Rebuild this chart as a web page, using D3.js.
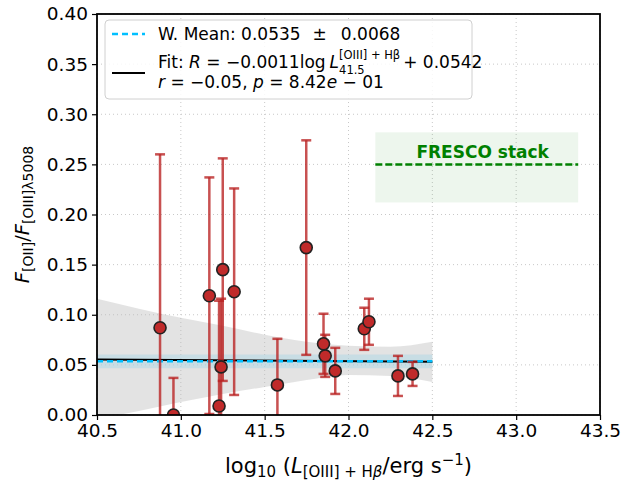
<!DOCTYPE html>
<html>
<head>
<meta charset="utf-8">
<script src="https://d3js.org/d3.v7.min.js"></script>
<style>
  body { margin: 0; background: #fff; }
  text { font-family: "DejaVu Sans", sans-serif; white-space: pre; }
</style>
</head>
<body>
<svg width="626" height="481"></svg>
<script>
// measured points: log10 L([OIII]+Hb), ratio, symmetric error
var lumX  = [40.876, 40.956, 41.17, 41.228, 41.240, 41.250, 41.318, 41.576, 41.748, 41.851, 41.861, 41.921, 42.094, 42.122, 42.295, 42.382];
var ratio = [0.087, 0.000, 0.119, 0.009, 0.048, 0.145, 0.123, 0.030, 0.167, 0.071, 0.059, 0.044, 0.086, 0.093, 0.039, 0.041];
var ratioErr = [0.173, 0.037, 0.118, 0.105, 0.068, 0.111, 0.103, 0.046, 0.107, 0.030, 0.021, 0.023, 0.021, 0.023, 0.020, 0.012];

// fit confidence band
var bandX     = [40.5, 40.75, 41.0, 41.25, 41.5, 41.75, 42.0, 42.25, 42.5];
var bandUpper = [0.116, 0.106, 0.097, 0.089, 0.080, 0.073, 0.069, 0.068, 0.073];
var bandLower = [-0.004, 0.004, 0.013, 0.021, 0.028, 0.035, 0.040, 0.039, 0.033];

// fit line end points and weighted mean
var fitX = [40.5, 42.5];
var fitY = [0.0553, 0.0531];
var wMean = 0.0535, wMeanErr = 0.0068;

// FRESCO stack
var frescoX = [42.16, 43.37];
var frescoVal = 0.25, frescoLo = 0.212, frescoHi = 0.282;

var xTicks = [40.5, 41.0, 41.5, 42.0, 42.5, 43.0, 43.5];
var yTicks = [0.00, 0.05, 0.10, 0.15, 0.20, 0.25, 0.30, 0.35, 0.40];

var svg = d3.select("svg"),
    margin = {top: 14, right: 26, bottom: 66, left: 97},
    width = 626 - margin.left - margin.right,
    height = 481 - margin.top - margin.bottom,
    g = svg.append("g").attr("transform", "translate(" + margin.left + "," + margin.top + ")");

var x = d3.scaleLinear().domain([40.5, 43.5]).range([0, width]);
var y = d3.scaleLinear().domain([0, 0.40]).range([height, 0]);

svg.append("defs").append("clipPath").attr("id", "clip")
  .append("rect").attr("width", width).attr("height", height);

// grid
g.append("g").selectAll("line").data(xTicks).enter().append("line")
  .attr("x1", d => x(d)).attr("x2", d => x(d)).attr("y1", 0).attr("y2", height)
  .attr("stroke", "#c8c8c8").attr("stroke-width", 1).attr("stroke-dasharray", "1,3");
g.append("g").selectAll("line").data(yTicks).enter().append("line")
  .attr("y1", d => y(d)).attr("y2", d => y(d)).attr("x1", 0).attr("x2", width)
  .attr("stroke", "#c8c8c8").attr("stroke-width", 1).attr("stroke-dasharray", "1,3");

var plot = g.append("g").attr("clip-path", "url(#clip)");

// FRESCO box
plot.append("rect")
  .attr("x", x(frescoX[0])).attr("width", x(frescoX[1]) - x(frescoX[0]))
  .attr("y", y(frescoHi)).attr("height", y(frescoLo) - y(frescoHi))
  .attr("fill", "#008000").attr("fill-opacity", 0.07);
plot.append("line")
  .attr("x1", x(frescoX[0])).attr("x2", x(frescoX[1]))
  .attr("y1", y(frescoVal)).attr("y2", y(frescoVal))
  .attr("stroke", "#008000").attr("stroke-width", 2.5).attr("stroke-dasharray", "7,3");
g.append("text")
  .attr("x", x(42.8)).attr("y", y(frescoVal) - 6)
  .attr("text-anchor", "middle").attr("font-size", 17).attr("font-weight", "bold")
  .attr("fill", "#008000").text("FRESCO stack");

// fit band
var area = d3.area()
  .x((d, i) => x(bandX[i]))
  .y0((d, i) => y(bandLower[i]))
  .y1((d, i) => y(bandUpper[i]))
  .curve(d3.curveMonotoneX);
plot.append("path").datum(bandX).attr("d", area)
  .attr("fill", "#bdbdbd").attr("fill-opacity", 0.42);

// weighted mean band
plot.append("rect")
  .attr("x", x(fitX[0])).attr("width", x(fitX[1]) - x(fitX[0]))
  .attr("y", y(wMean + wMeanErr)).attr("height", y(wMean - wMeanErr) - y(wMean + wMeanErr))
  .attr("fill", "#add8e6").attr("fill-opacity", 0.5);

// fit line
plot.append("line")
  .attr("x1", x(fitX[0])).attr("x2", x(fitX[1]))
  .attr("y1", y(fitY[0])).attr("y2", y(fitY[1]))
  .attr("stroke", "#000").attr("stroke-width", 2);
plot.append("line")
  .attr("x1", x(fitX[0])).attr("x2", x(fitX[1]))
  .attr("y1", y(wMean)).attr("y2", y(wMean))
  .attr("stroke", "#00bfff").attr("stroke-width", 2.5).attr("stroke-dasharray", "6,4");

// error bars
var pts = lumX.map((d, i) => ({x: d, y: ratio[i], e: ratioErr[i]}));
var eb = plot.append("g").attr("stroke", "#b82020").attr("stroke-opacity", 0.78).attr("stroke-width", 2.5);
pts.forEach(function(p) {
  var cx = x(p.x);
  eb.append("line").attr("x1", cx).attr("x2", cx).attr("y1", y(p.y - p.e)).attr("y2", y(p.y + p.e));
  [p.y - p.e, p.y + p.e].forEach(function(v) {
    eb.append("line").attr("x1", cx - 5).attr("x2", cx + 5).attr("y1", y(v)).attr("y2", y(v));
  });
});

plot.append("g").selectAll("circle").data(pts).enter().append("circle")
  .attr("cx", d => x(d.x)).attr("cy", d => y(d.y)).attr("r", 6)
  .attr("fill", "#c02a2a").attr("stroke", "#222").attr("stroke-width", 1.6);

// axes
var xAxis = g.append("g").attr("transform", "translate(0," + height + ")")
  .call(d3.axisBottom(x).tickValues(xTicks).tickFormat(d3.format(".1f")).tickSize(5).tickPadding(4));
var yAxis = g.append("g")
  .call(d3.axisLeft(y).tickValues(yTicks).tickFormat(d3.format(".2f")).tickSize(5).tickPadding(4));
[xAxis, yAxis].forEach(function(a) {
  a.select(".domain").remove();
  a.selectAll("text").attr("font-size", 18.5).attr("fill", "#000").style("font-family", "DejaVu Sans");
  a.selectAll("line").attr("stroke", "#000").attr("stroke-width", 1.2);
});
g.append("rect").attr("width", width).attr("height", height)
  .attr("fill", "none").attr("stroke", "#000").attr("stroke-width", 1.8);

// rich text helper: pieces placed one after another, "stack" puts a piece under the previous one
function rich(parent, x0, y0, runs) {
  var grp = parent.append("g");
  var cx = x0, prevStart = x0, prevEnd = x0;
  runs.forEach(function(r) {
    var sx = r.stack ? prevStart : cx + (r.gap || 0);
    var t = grp.append("text").attr("x", sx).attr("y", y0 + (r.dy || 0))
      .attr("font-size", r.size).style("font-style", r.it ? "italic" : "normal").text(r.t);
    var w = t.node().getComputedTextLength();
    if (r.stack) { cx = Math.max(prevEnd, sx + w); }
    else { prevStart = sx; prevEnd = sx + w; cx = sx + w; }
  });
  return {g: grp, width: cx - x0};
}

// x label
var xl = rich(svg, 0, 473, [
  {t: "log", size: 21}, {t: "10", size: 15, dy: 4}, {t: " (", size: 21},
  {t: "L", size: 21, it: true}, {t: "[OIII] + H", size: 15, dy: 4}, {t: "β", size: 15, dy: 4, it: true},
  {t: "/erg s", size: 21}, {t: "−1", size: 15, dy: -8}, {t: ")", size: 21}
]);
xl.g.attr("transform", "translate(" + (margin.left + width / 2 - xl.width / 2) + ",0)");

// y label
var ylg = svg.append("g");
var yl = rich(ylg, 0, 0, [
  {t: "F", size: 19.5, it: true}, {t: "[OII]", size: 14, dy: 4}, {t: "/", size: 19.5},
  {t: "F", size: 19.5, it: true}, {t: "[OIII]λ5008", size: 14, dy: 4}
]);
ylg.attr("transform", "translate(29," + (margin.top + height / 2 + yl.width / 2) + ") rotate(-90)");

// legend
var leg = svg.append("g");
leg.append("rect").attr("x", 105).attr("y", 20).attr("width", 367).attr("height", 79).attr("rx", 4)
  .attr("fill", "#fff").attr("fill-opacity", 0.85).attr("stroke", "#d0d0d0").attr("stroke-width", 1);
leg.append("line").attr("x1", 112).attr("x2", 145).attr("y1", 34).attr("y2", 34)
  .attr("stroke", "#00bfff").attr("stroke-width", 2.5).attr("stroke-dasharray", "6,4");
leg.append("line").attr("x1", 112).attr("x2", 145).attr("y1", 73).attr("y2", 73)
  .attr("stroke", "#000").attr("stroke-width", 2);
rich(leg, 158, 40, [
  {t: "W. Mean: 0.0535", size: 17}, {t: "±", size: 17, gap: 12}, {t: "0.0068", size: 17, gap: 14}
]);
rich(leg, 158, 68, [
  {t: "Fit: ", size: 17}, {t: "R", size: 17, it: true}, {t: " = −0.0011log", size: 17},
  {t: "L", size: 17, it: true, gap: 4}, {t: "[OIII] + Hβ", size: 11.5, dy: -9}, {t: "41.5", size: 11.5, dy: 6, stack: true},
  {t: "+ 0.0542", size: 17, gap: 3}
]);
rich(leg, 158, 88, [
  {t: "r", size: 17, it: true}, {t: " = −0.05, ", size: 17}, {t: "p", size: 17, it: true},
  {t: " = 8.42", size: 17}, {t: "e", size: 17, it: true}, {t: " − 01", size: 17}
]);
</script>
</body>
</html>
